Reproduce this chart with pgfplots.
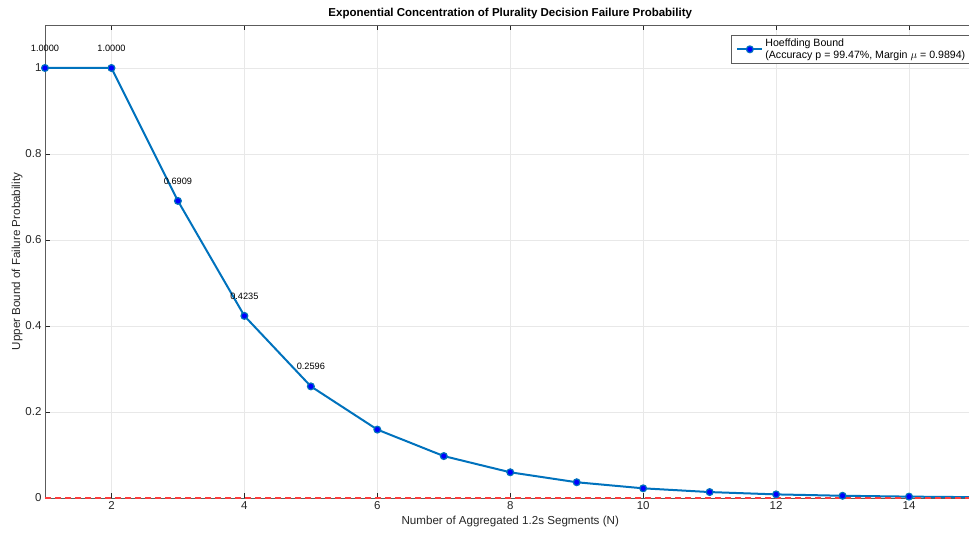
\documentclass[border=0pt]{standalone}
\usepackage{pgfplots}
\pgfplotsset{compat=1.18}
\usepackage{fontspec}
\setmainfont{Liberation Sans}
\usetikzlibrary{calc}
\definecolor{mblue}{RGB}{0,114,189}
\definecolor{axgray}{RGB}{38,38,38}
\definecolor{mred}{RGB}{255,60,60}
\begin{document}
\begin{tikzpicture}
\begin{axis}[
  scale only axis, width=930.5pt, height=473pt,
  xmin=1, xmax=15, ymin=0, ymax=1.1,
  xtick={2,4,6,8,10,12,14}, ytick={0,0.2,0.4,0.6,0.8,1},
  grid=major, major grid style={gray!18, line width=0.6pt},
  axis line style={axgray!75, line width=0.7pt},
  tick style={axgray, line width=0.7pt}, tick align=inside, major tick length=5pt,
  ticklabel style={font=\fontsize{11.5}{13}\selectfont, text=axgray},
  /pgf/number format/assume math mode=true,
  title={\bfseries Exponential Concentration of Plurality Decision Failure Probability},
  title style={font=\fontsize{11.5}{13}\selectfont, text=black, yshift=-3pt},
  xlabel={Number of Aggregated 1.2s Segments (N)},
  ylabel={Upper Bound of Failure Probability},
  label style={font=\fontsize{11.6}{13}\selectfont, text=axgray},
  ylabel style={yshift=-4pt},
  legend style={at={(0.9968,0.979)}, anchor=north east, font=\fontsize{10.6}{12}\selectfont,
    draw=axgray!75, line width=0.6pt, cells={align=left}, inner xsep=5pt, inner ysep=1.5pt},
  legend cell align=left,
  legend image code/.code={\draw[#1, mark repeat=2, mark phase=2] plot coordinates {(0pt,0pt) (12.5pt,0pt) (25pt,0pt)};},
]
\addplot[mblue, line width=2pt, mark=*, mark size=3.4pt,
  mark options={fill=blue, draw=mblue, line width=1.2pt}] coordinates {
  (1,1.0000) (2,1.0000) (3,0.6909) (4,0.4235) (5,0.2596) (6,0.1591)
  (7,0.0975) (8,0.0598) (9,0.0366) (10,0.0225) (11,0.0138) (12,0.0084)
  (13,0.0052) (14,0.0032) (15,0.0019)};
\addlegendentry{Hoeffding Bound\\(Accuracy p = 99.47\%, Margin $\mu$ = 0.9894)}
\addplot[mred, line width=1.3pt, dash pattern=on 6pt off 4pt, forget plot] coordinates {(1,0) (15,0)};
\addplot[draw=none, forget plot, point meta=y,
  nodes near coords={\pgfmathprintnumber[fixed, fixed zerofill, precision=4]{\pgfplotspointmeta}},
  every node near coord/.style={font=\fontsize{9.2}{11}\selectfont, text=black, anchor=center, yshift=20pt}]
  coordinates {(1,1.0000) (2,1.0000) (3,0.6909) (4,0.4235) (5,0.2596)};
\end{axis}
\pgfresetboundingbox
\path[use as bounding box] ($(current axis.south west)+(-45pt,-38pt)$) rectangle ($(current axis.north west)+(924pt,25pt)$);
\end{tikzpicture}
\end{document}
